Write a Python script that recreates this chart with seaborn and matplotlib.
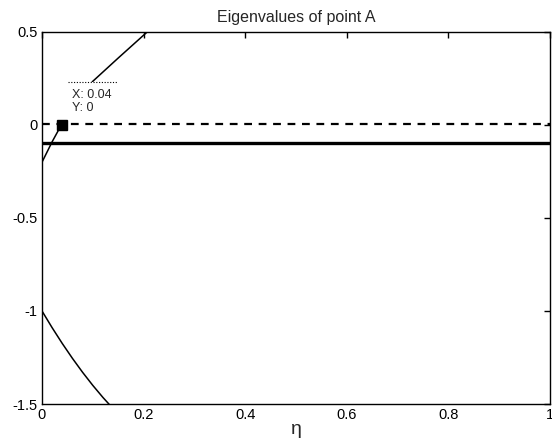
import matplotlib
matplotlib.use("Agg")
import matplotlib.pyplot as plt
from matplotlib.patches import Rectangle
import seaborn as sns
import pandas as pd

# ---- data ----
branch1_x = [0.0, 0.01, 0.02, 0.035, 0.05, 0.07, 0.10, 0.15, 0.207]
branch1_y = [-0.20, -0.145, -0.09, -0.015, 0.05, 0.13, 0.235, 0.36, 0.50]

branch2_x = [0.0, 0.02, 0.04, 0.06, 0.08, 0.10, 0.12, 0.135]
branch2_y = [-1.0, -1.09, -1.175, -1.255, -1.33, -1.40, -1.465, -1.51]

const_x = [0.0, 1.0]
dashed_y = [0.003, 0.003]
solid_y = [-0.095, -0.095]

tip_x = 0.04
tip_y = 0.0
tip_labels = ["X: 0.04", "Y: 0"]
tip_box = (0.036, 0.028, 0.114, 0.205)   # x0, y0, width, height (white data-tip box)

xticks = [0, 0.2, 0.4, 0.6, 0.8, 1]
xticklabels = ["0", "0.2", "0.4", "0.6", "0.8", "1"]
yticks = [-1.5, -1, -0.5, 0, 0.5]
yticklabels = ["-1.5", "-1", "-0.5", "0", "0.5"]

title = "Eigenvalues of point A"
xlabel = "η"

sns.set_style("white")
plt.rcParams["font.family"] = ["Liberation Sans", "DejaVu Sans"]
plt.rcParams["axes.unicode_minus"] = False

fig = plt.figure(figsize=(5.52, 4.43), dpi=100)
ax = fig.add_axes([42 / 552, 39 / 443, 508 / 552, 372 / 443])

df1 = pd.DataFrame({"x": branch1_x, "y": branch1_y})
df2 = pd.DataFrame({"x": branch2_x, "y": branch2_y})
sns.lineplot(data=df1, x="x", y="y", ax=ax, color="black", lw=1.1, sort=False)
sns.lineplot(data=df2, x="x", y="y", ax=ax, color="black", lw=1.1, sort=False)
sns.lineplot(x=const_x, y=dashed_y, ax=ax, color="black", lw=1.6, linestyle=(0, (3.5, 3)))
sns.lineplot(x=const_x, y=solid_y, ax=ax, color="black", lw=2.4)

# data tip: white box with dotted top edge, marker and labels
x0, y0, w, h = tip_box
ax.add_patch(Rectangle((x0, y0), w, h, facecolor="white", edgecolor="none", zorder=3))
ax.plot([x0 + 0.015, x0 + w], [y0 + h, y0 + h], color="black", lw=0.8,
        linestyle=(0, (1, 1.5)), zorder=4)
ax.plot([tip_x], [tip_y], marker="s", color="black", markersize=6.5, zorder=5)
ax.text(0.059, 0.16, tip_labels[0], fontsize=9, va="center", ha="left", zorder=6)
ax.text(0.059, 0.093, tip_labels[1], fontsize=9, va="center", ha="left", zorder=6)

ax.set_xlim(0, 1)
ax.set_ylim(-1.5, 0.5)
ax.set_xticks(xticks)
ax.set_xticklabels(xticklabels)
ax.set_yticks(yticks)
ax.set_yticklabels(yticklabels)
ax.tick_params(direction="in", length=4, width=1, top=True, right=True,
               labelsize=10.5, colors="black", pad=3)
for s in ax.spines.values():
    s.set_visible(True)
    s.set_color("black")
    s.set_linewidth(1.0)

ax.set_title(title, fontsize=11.5, pad=7)
ax.set_xlabel(xlabel, fontsize=14, labelpad=-1)
ax.set_ylabel("")

fig.savefig("out.png", dpi=100)
